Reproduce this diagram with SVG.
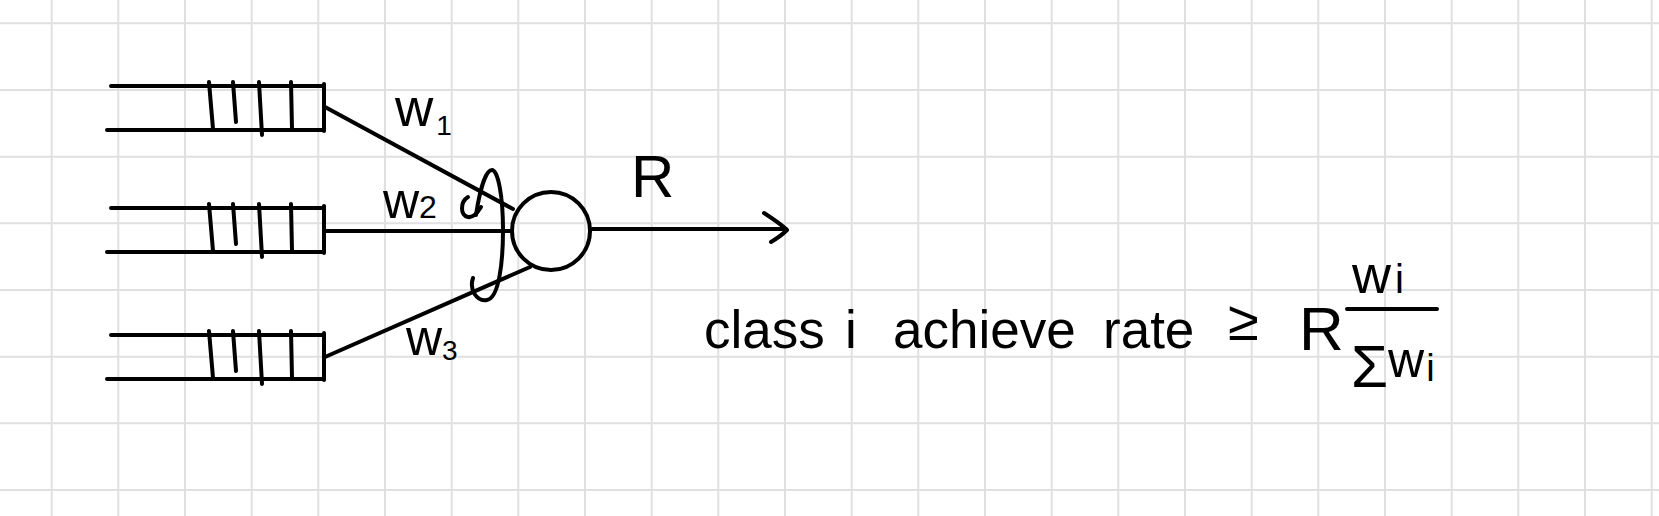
<svg xmlns="http://www.w3.org/2000/svg" xmlns:xlink="http://www.w3.org/1999/xlink" width="1659" height="516" viewBox="0 0 1659 516">
<style>
.grid{stroke:#e0e0e0;stroke-width:2;fill:none}
.ink{stroke:#000;stroke-width:4;fill:none;stroke-linecap:round;stroke-linejoin:round}
.hw{font-family:"Liberation Sans",Arial,sans-serif;fill:#000}
</style>
<defs>
<g id="queue-shape" class="ink">
<path d="M111 86H324M107 130H324M324 84V131"/>
<path d="M209 82L213 129M233 82L236 122M259 82L262 135M291 82L292 129"/>
</g>
<marker id="open-arrow" markerUnits="userSpaceOnUse" orient="auto" refX="0" refY="0" markerWidth="40" markerHeight="40" overflow="visible">
<path d="M-22 -16Q-5 -5 1 1Q-5 7 -15 13" stroke="#000" stroke-width="4" fill="none" stroke-linecap="round" stroke-linejoin="round"/>
</marker>
</defs>
<rect width="1659" height="516" fill="#fff"/>
<path class="grid" d="M51.7 0V516M118.3 0V516M185 0V516M251.7 0V516M318.3 0V516M385 0V516M451.7 0V516M518.3 0V516M585 0V516M651.7 0V516M718.3 0V516M785 0V516M851.7 0V516M918.3 0V516M985 0V516M1051.7 0V516M1118.3 0V516M1185 0V516M1251.7 0V516M1318.3 0V516M1385 0V516M1451.7 0V516M1518.3 0V516M1585 0V516M1651.7 0V516M0 23.3H1659M0 90H1659M0 156.7H1659M0 223.3H1659M0 290H1659M0 356.7H1659M0 423.3H1659M0 490H1659"/>
<g id="queue1"><use xlink:href="#queue-shape" href="#queue-shape"/></g>
<g id="queue2"><use xlink:href="#queue-shape" href="#queue-shape" transform="translate(0,122)"/></g>
<g id="queue3"><use xlink:href="#queue-shape" href="#queue-shape" transform="translate(0,249)"/></g>
<g id="scheduler"><circle class="ink" cx="551" cy="231" r="39"/></g>
<g id="connectors" class="ink">
<path d="M325 107L513 209"/>
<path d="M325 231L510 231"/>
<path d="M325 357L530 267"/>
<path d="M592 229L786 229" marker-end="url(#open-arrow)"/>
</g>
<g id="weight-loop" class="ink">
<path d="M473 278C469 290 477 302 487 300C499 298 503 262 503 230C503 196 498 170 492 170C485 170 479 195 476 215"/>
<path d="M468 197C460 202 460 215 468 217C473 218 478 212 481 207"/>
</g>
<g id="labels">
<text class="hw" x="395" y="126" font-size="53">w<tspan font-size="28" dx="3" dy="9">1</tspan></text>
<text class="hw" x="383" y="218" font-size="50">w<tspan font-size="32">2</tspan></text>
<text class="hw" x="406" y="355" font-size="50">w<tspan font-size="28" dy="5">3</tspan></text>
<text class="hw" x="631" y="197" font-size="60">R</text>
<text class="hw" font-size="53" y="348"><tspan x="704">class</tspan><tspan x="845">i</tspan><tspan x="893">achieve</tspan><tspan x="1103">rate</tspan><tspan x="1228" y="340" font-size="56">≥</tspan><tspan x="1299" y="350" font-size="62">R</tspan></text>
<text class="hw" x="1352" y="293" font-size="54">w<tspan font-size="40" dx="4">i</tspan></text>
<path class="ink" d="M1347 309H1437"/>
<text class="hw" x="1351" y="387" font-size="60">Σ<tspan font-size="50" y="377">w</tspan><tspan font-size="38" dx="2" y="381">i</tspan></text>
</g>
</svg>
